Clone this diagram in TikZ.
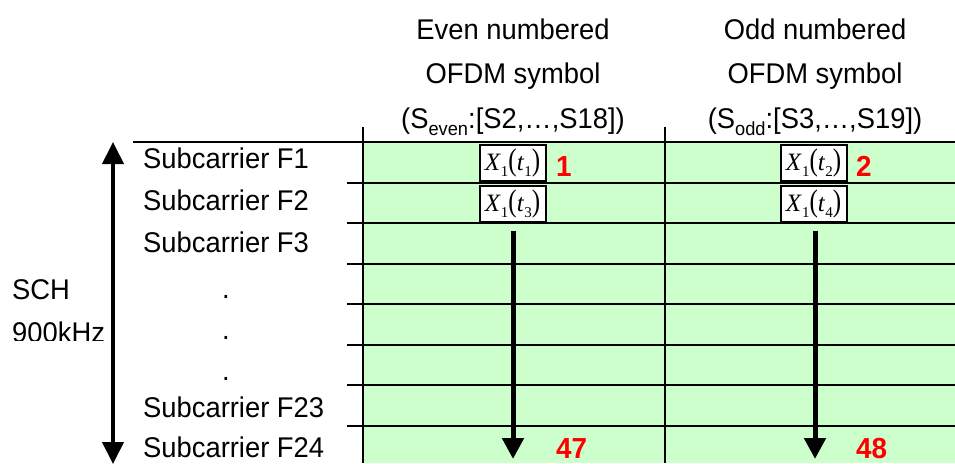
\documentclass[tikz,border=0pt]{standalone}
\usepackage{fontspec}
\setmainfont{Liberation Sans}[FakeStretch=0.96]
\newfontfamily\serifx{Liberation Serif}
\usetikzlibrary{arrows.meta}
\definecolor{cellgreen}{RGB}{204,255,204}
\definecolor{numred}{RGB}{255,0,0}
\newcommand{\Xt}[1]{{\serifx\fontsize{25}{25}\selectfont\textit{X}\raisebox{-0.22em}{\fontsize{15}{15}\selectfont 1}\scalebox{1}[1.25]{(}\textit{t}\raisebox{-0.22em}{\fontsize{15}{15}\selectfont #1}\scalebox{1}[1.25]{)}}}
\tikzset{
  txt/.style={inner sep=0pt, anchor=base west, font=\fontsize{28.5}{30}\selectfont},
  head/.style={inner sep=0pt, anchor=base, font=\fontsize{28.5}{30}\selectfont},
  grid/.style={line width=2pt},
  xbox/.style={draw, line width=2pt, fill=white, minimum width=66pt, minimum height=36pt, inner sep=0pt},
  rednum/.style={inner sep=0pt, anchor=base west, text=numred, font=\fontsize{29}{30}\selectfont\bfseries},
  downarrow/.style={line width=5pt, -{Triangle[width=21pt,length=21pt]}},
  dblarrow/.style={line width=4pt, {Triangle[width=21pt,length=22pt]}-{Triangle[width=21pt,length=22pt]}}
}
\begin{document}
\begin{tikzpicture}[x=1pt,y=-1pt]
\useasboundingbox (0,0) rectangle (955,463);
% green area
\fill[cellgreen] (363,142) rectangle (955,463);
% grid
\draw[grid] (133,142) -- (955,142);
\foreach \y in {182.5,223,263.5,304,344.5,385,425.5} {
  \draw[grid] (347,\y) -- (955,\y);
}
\draw[grid] (363,127) -- (363,463);
\draw[grid] (665,127) -- (665,463);
% headings
\node[head] (h1a) at (513,39) {Even numbered};
\node[head] (h1b) at (513,83) {OFDM symbol};
\node[head] (h1c) at (513,128) {(S\raisebox{-0.25em}{\fontsize{19}{19}\selectfont even}:[S2,…,S18])};
\node[head] (h2a) at (815,39) {Odd numbered};
\node[head] (h2b) at (815,83) {OFDM symbol};
\node[head] (h2c) at (815,128) {(S\raisebox{-0.25em}{\fontsize{19}{19}\selectfont odd}:[S3,…,S19])};
% left labels
\node[txt] (f1) at (143,168) {Subcarrier F1};
\node[txt] (f2) at (143,210) {Subcarrier F2};
\node[txt] (f3) at (143,252) {Subcarrier F3};
\node[txt] (d1) at (222,298) {.};
\node[txt] (d2) at (222,339) {.};
\node[txt] (d3) at (222,380) {.};
\node[txt] (f23) at (143,417) {Subcarrier F23};
\node[txt] (f24) at (143,457) {Subcarrier F24};
\node[txt] (sch) at (12,299) {SCH};
\begin{scope}
\clip (0,300) rectangle (120,340.5);
\node[txt] (khz) at (12,342) {900kHz};
\end{scope}
% left double arrow
\coordinate (lt) at (113,142);
\coordinate (lb) at (113,464);
\draw[dblarrow] (lb) -- (lt);
% boxes
\node[xbox] (b11) at (512.5,163) {\Xt{1}};
\node[xbox] (b13) at (512.5,204) {\Xt{3}};
\node[xbox] (b22) at (813.5,163) {\Xt{2}};
\node[xbox] (b24) at (813.5,204) {\Xt{4}};
% red numbers
\node[rednum] (n1) at (556,176) {1};
\node[rednum] (n2) at (856,176) {2};
\node[rednum] (n47) at (556,458) {47};
\node[rednum] (n48) at (856,458) {48};
% down arrows
\coordinate (e1) at (513,459);
\coordinate (e2) at (815,459);
\draw[downarrow] ([yshift=-8pt]b13.south -| e1) -- (e1);
\draw[downarrow] ([yshift=-8pt]b24.south -| e2) -- (e2);
\end{tikzpicture}
\end{document}
